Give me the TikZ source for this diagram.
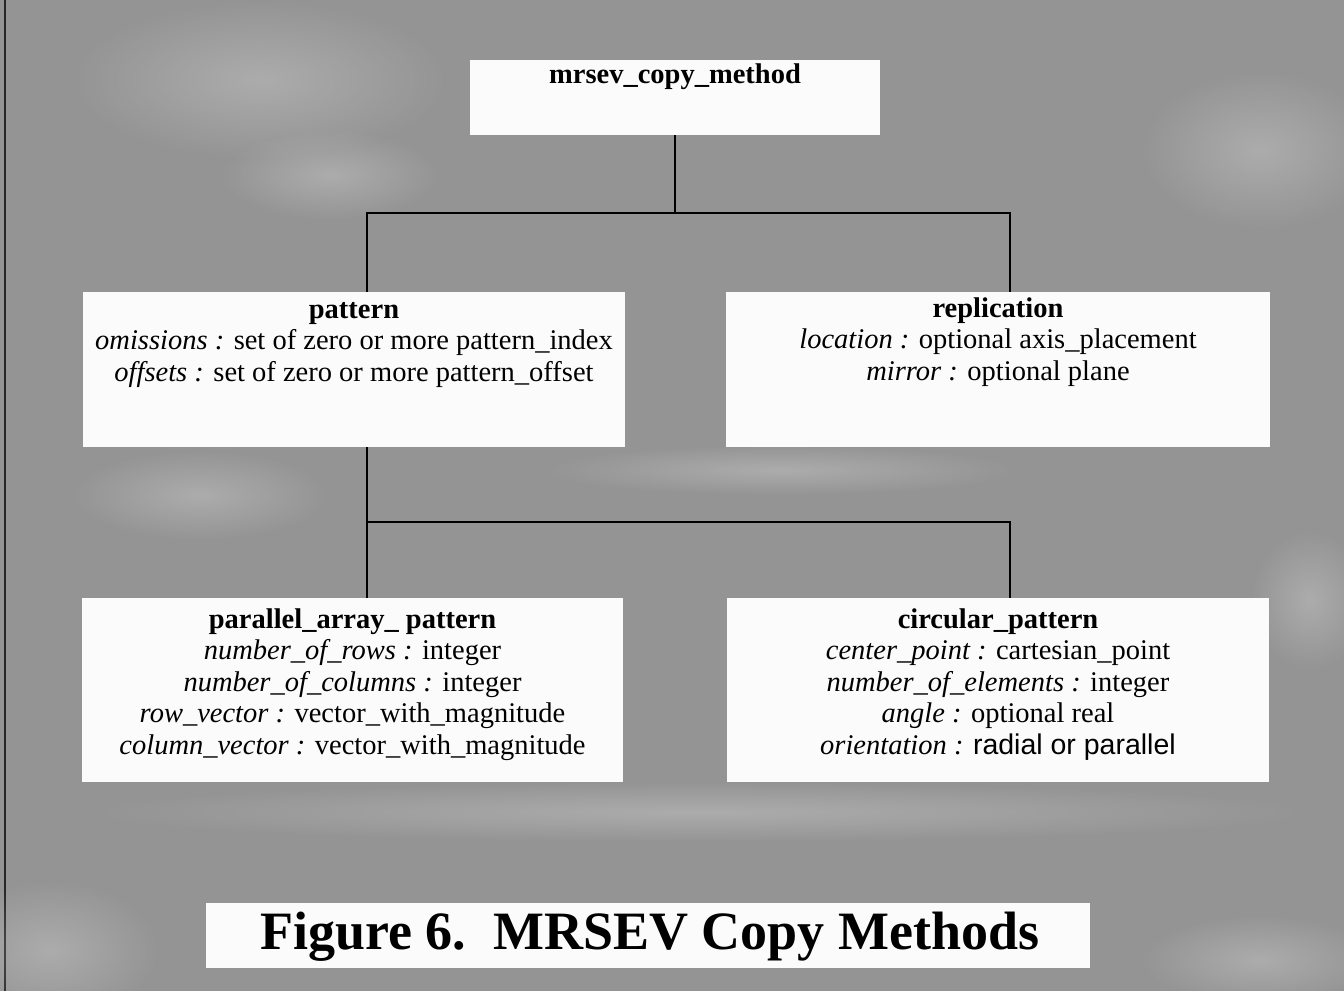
\documentclass[tikz,border=0pt]{standalone}
\usepackage{fontspec}
\setmainfont{Liberation Serif}
\setsansfont{Liberation Sans}
\usetikzlibrary{fadings}
\definecolor{screen}{gray}{0.58}
\definecolor{paper}{gray}{0.985}
\tikzfading[name=blob, inner color=transparent!35, outer color=transparent!100]
\begin{document}
\begin{tikzpicture}[x=1pt,y=-1pt,
  card/.style={fill=paper, draw=none, inner sep=0pt, outer sep=0pt},
  body/.style={inner sep=0pt, outer sep=0pt, align=center, anchor=north,
    font=\fontsize{28.5}{31.5}\selectfont},
  wire/.style={draw=black, line width=2.2pt},
  smudge/.style={fill=white, opacity=0.35, path fading=blob}]

  % canvas and dithered grey ground
  \useasboundingbox (0,0) rectangle (1344,991);
  \fill[screen] (0,0) rectangle (1344,991);
  \draw[line width=2pt, black!85] (5,0) -- (5,991);

  % light blotches in the screened ground
  \fill[smudge] (260,80) ellipse (190 and 80);
  \fill[smudge] (330,175) ellipse (110 and 45);
  \fill[smudge] (200,495) ellipse (130 and 45);
  \fill[smudge] (1260,150) ellipse (120 and 80);
  \fill[smudge] (1310,600) ellipse (60 and 70);
  \fill[smudge] (50,950) ellipse (110 and 70);
  \fill[smudge] (700,812) ellipse (620 and 30);
  \fill[smudge] (1260,960) ellipse (120 and 45);
  \fill[smudge] (780,470) ellipse (240 and 25);

  % boxes
  \node[card, minimum width=410pt, minimum height=75pt]  (top)  at (675,97.5)  {};
  \node[card, minimum width=542pt, minimum height=155pt] (pat)  at (354,369.5) {};
  \node[card, minimum width=544pt, minimum height=155pt] (rep)  at (998,369.5) {};
  \node[card, minimum width=541pt, minimum height=184pt] (par)  at (352.5,690) {};
  \node[card, minimum width=542pt, minimum height=184pt] (circ) at (998,690)   {};
  \node[card, minimum width=884pt, minimum height=65pt]  (cap)  at (648,935.5) {};

  % box texts (first baseline sits 22pt below each anchor)
  \node[body] (topT) at (675,61) {\strut\textbf{mrsev\_copy\_method}};
  \node[body] (patT) at (354,296) {\strut\textbf{pattern}\\
    \textit{omissions :} set of zero or more pattern\_index\\
    \textit{offsets :} set of zero or more pattern\_offset};
  \node[body] (repT) at (998,295) {\strut\textbf{replication}\\
    \textit{location :} optional axis\_placement\\
    \textit{mirror :} optional plane};
  \node[body] (parT) at (352.5,606) {\strut\textbf{parallel\_array\_ pattern}\\
    \textit{number\_of\_rows :} integer\\
    \textit{number\_of\_columns :} integer\\
    \textit{row\_vector :} vector\_with\_magnitude\\
    \textit{column\_vector :} vector\_with\_magnitude};
  \node[body] (circT) at (998,606) {\strut\textbf{circular\_pattern}\\
    \textit{center\_point :} cartesian\_point\\
    \textit{number\_of\_elements :} integer\\
    \textit{angle :} optional real\\
    \textit{orientation :} {\sffamily radial or parallel}};
  \node[inner sep=0pt, font=\fontsize{54}{58}\selectfont\bfseries] (capT) at (650,937)
    {Figure 6.\ \ MRSEV Copy Methods};

  % tree connectors
  \coordinate (jL) at (367,213);
  \coordinate (jR) at (1010,213);
  \coordinate (kL) at (367,522);
  \coordinate (kR) at (1010,522);
  \draw[wire] (top.south) -- (top.south |- jL);
  \draw[wire] (pat.north -| jL) -- (jL) -- (jR) -- (rep.north -| jR);
  \draw[wire] (pat.south -| kL) -- (kL) -- (par.north -| kL);
  \draw[wire] (kL) -- (kR) -- (circ.north -| kR);
\end{tikzpicture}
\end{document}
